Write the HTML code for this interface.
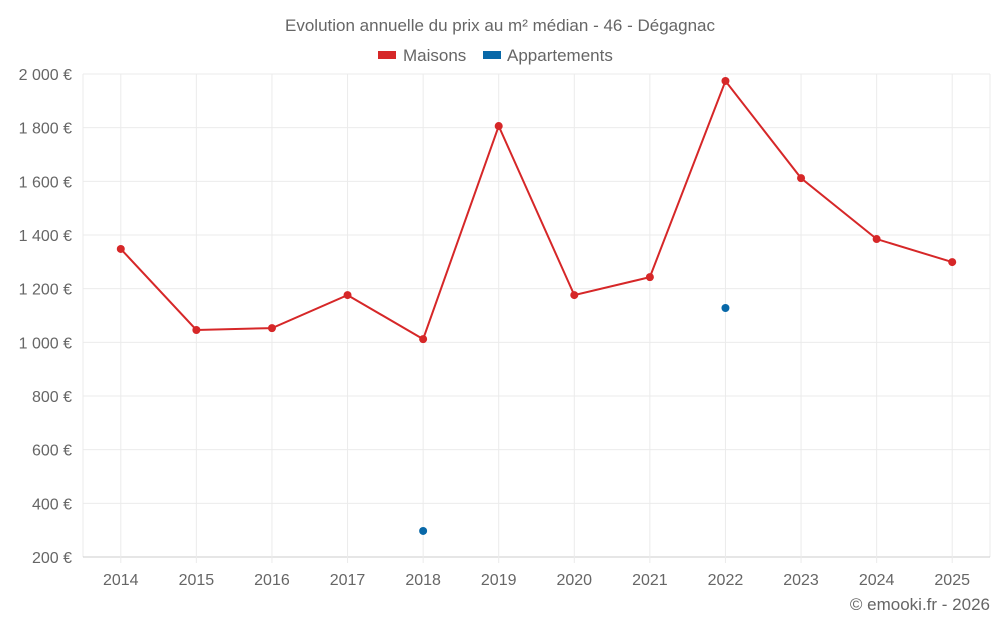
<!DOCTYPE html>
<html><head><meta charset="utf-8">
<style>
body{margin:0;background:#fff;width:1000px;height:625px;overflow:hidden;font-family:"Liberation Sans",sans-serif}
svg text{font-family:"Liberation Sans",sans-serif;fill:#666}
</style></head>
<body>
<svg id="chart" width="1000" height="625" xmlns="http://www.w3.org/2000/svg">
<text x="500" y="31" text-anchor="middle" font-size="17">Evolution annuelle du prix au m² médian - 46 - Dégagnac</text>
<g>
<rect x="378" y="51" width="18" height="8" fill="#d62728"/>
<text x="403" y="61" font-size="17">Maisons</text>
<rect x="483" y="51" width="18" height="8" fill="#0868a8"/>
<text x="507" y="61" font-size="17">Appartements</text>
</g>
<g id="grid"></g>
<g id="marks"></g>
<text x="990" y="610" text-anchor="end" font-size="17">© emooki.fr - 2026</text>
</svg>
<script>
const years=["2014","2015","2016","2017","2018","2019","2020","2021","2022","2023","2024","2025"];
const maisons=[1348,1046,1053,1176,1012,1806,1176,1243,1974,1612,1385,1299];
const appartements=[null,null,null,null,297,null,null,null,1128,null,null,null];
const yTicks=[200,400,600,800,1000,1200,1400,1600,1800,2000];
const yLabels=["200 €","400 €","600 €","800 €","1 000 €","1 200 €","1 400 €","1 600 €","1 800 €","2 000 €"];

const NS="http://www.w3.org/2000/svg";
const L=83,R=990,T=74,B=557;
const x=i=>L+(R-L)/years.length*(i+0.5);
const y=v=>B-(v-200)/1800*(B-T);
function mk(t,a,p){const e=document.createElementNS(NS,t);for(const k in a)e.setAttribute(k,a[k]);p.appendChild(e);return e;}
const g=document.getElementById('grid'),m=document.getElementById('marks');
[L,R].forEach(xx=>{
  const ln=mk('line',{x1:xx,x2:xx,y1:T,y2:B,stroke:'#ebebeb'},g);
  
  
});
yTicks.forEach((v,i)=>{
  const ln=mk('line',{x1:L,x2:R,y1:y(v),y2:y(v),stroke:i==0?'#ccc':'#ebebeb','stroke-width':1},g);
  
  
  const t=mk('text',{x:72,y:y(v)+6,'text-anchor':'end','font-size':16},g);t.textContent=yLabels[i];
  
  
});
years.forEach((yr,i)=>{
  const ln=mk('line',{x1:x(i),x2:x(i),y1:T,y2:B+6,stroke:'#ebebeb'},g);
  
  
  const t=mk('text',{x:x(i),y:585,'text-anchor':'middle','font-size':16},g);t.textContent=yr;
  
  
});
const pts=maisons.map((v,i)=>x(i)+','+y(v)).join(' ');
const pl=mk('polyline',{points:pts,fill:'none',stroke:'#d62728','stroke-width':2},m);


maisons.forEach((v,i)=>{
  const c=mk('circle',{cx:x(i),cy:y(v),r:4,fill:'#d62728'},m);
  
  
});
appartements.forEach((v,i)=>{
  if(v==null)return;
  const c=mk('circle',{cx:x(i),cy:y(v),r:4,fill:'#0868a8'},m);
  
  
});
</script>
</body></html>
